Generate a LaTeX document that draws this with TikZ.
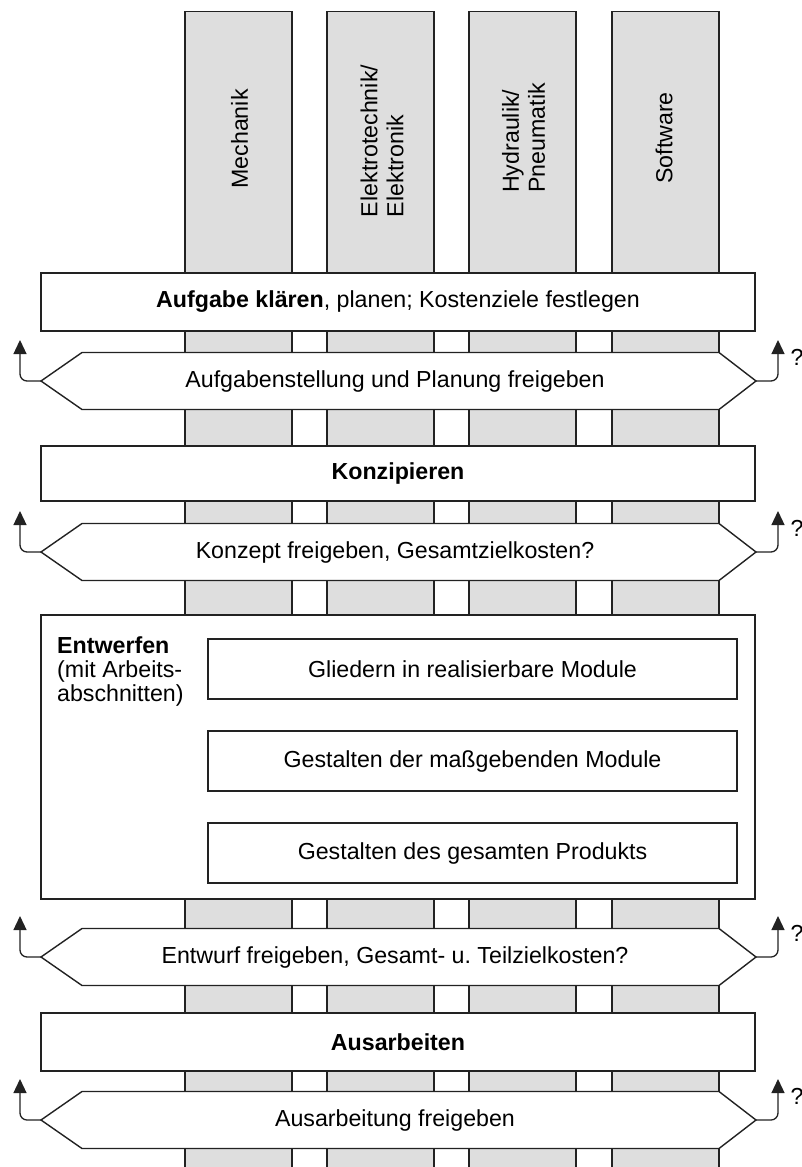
\documentclass[tikz,border=0pt]{standalone}
\usepackage{fontspec}
\setmainfont{Liberation Sans}
\usetikzlibrary{arrows.meta}
\definecolor{colfill}{HTML}{DEDEDE}
\definecolor{ink}{HTML}{222222}
\frenchspacing

\begin{document}
\begin{tikzpicture}[x=1pt,y=-1pt,
  every node/.style={font=\fontsize{23.2}{26}\selectfont, text=black},
  fieldcol/.style={fill=colfill, draw=ink, line width=1.3pt, minimum width=107pt,
    minimum height=1180pt, anchor=north, inner sep=0pt},
  fieldlabel/.style={rotate=90, align=left, inner sep=0pt},
  stage/.style={draw=ink, fill=white, line width=2.8pt, minimum width=714pt, inner sep=0pt},
  substage/.style={draw=ink, fill=white, line width=1.3pt, minimum width=529pt,
    minimum height=60pt, inner sep=0pt},
  gate/.style={draw=ink, fill=white, line width=1.4pt, line join=miter},
  gatetext/.style={inner sep=0pt},
  back/.style={draw=ink, line width=1.3pt, rounded corners=7pt,
    -{Triangle[length=14pt,width=13pt]}},
  query/.style={inner sep=0pt}
]
\useasboundingbox (0,0) rectangle (802,1167);
\clip (0,0) rectangle (802,1167);

% engineering fields running behind the whole process
\node[fieldcol] (d1) at (238.5,11) {};
\node[fieldcol] (d2) at (380.5,11) {};
\node[fieldcol] (d3) at (522.5,11) {};
\node[fieldcol] (d4) at (665.5,11) {};
\node[fieldlabel] (l1) at (239.5,139) {Mechanik};
\node[fieldlabel] (l2) at (382,141) {Elektrotechnik/\\Elektronik};
\node[fieldlabel] (l3) at (523.5,138) {Hydraulik/\\Pneumatik};
\node[fieldlabel] (l4) at (664,138) {Software};

% working stages
\node[stage, minimum height=58pt] (s1) at (398,302)
  {\textbf{Aufgabe klären}, planen; Kostenziele festlegen};
\node[stage, minimum height=55pt] (s2) at (398,473.5) {\textbf{Konzipieren}};
\node[stage, minimum height=284pt] (s3) at (398,757) {};
\node[stage, minimum height=58pt] (s4) at (398,1042) {\textbf{Ausarbeiten}};

% design stage with its sub-steps
\node[align=left, anchor=north west, inner sep=0pt,
      font=\fontsize{23.2}{24.3}\selectfont] (s3t) at (57,636)
  {\textbf{Entwerfen}\\(mit Arbeits-\\abschnitten)};
\node[substage] (m1) at (472.5,669) {Gliedern in realisierbare Module};
\node[substage] (m2) at (472.5,761) {Gestalten der maßgebenden Module};
\node[substage] (m3) at (472.5,853) {Gestalten des gesamten Produkts};

% release gates with feedback arrows
\foreach \n/\y/\t in {1/381/{Aufgabenstellung und Planung freigeben},
                      2/552/{Konzept freigeben, Gesamtzielkosten?},
                      3/957/{Entwurf freigeben, Gesamt- u. Teilzielkosten?},
                      4/1120/{Ausarbeitung freigeben}} {
  \draw[gate] (41,\y) -- (82,\y-28.5) -- (719,\y-28.5) -- (756,\y)
    -- (719,\y+28.5) -- (82,\y+28.5) -- cycle;
  \coordinate (g\n w) at (41,\y);
  \coordinate (g\n e) at (756,\y);
  \coordinate (g\n lt) at (20,\y-41);
  \coordinate (g\n rt) at (778,\y-41);
  \node[gatetext] (g\n) at (395,\y) {\t};
  \draw[back] (g\n w) -- (g\n lt |- g\n w) -- (g\n lt);
  \draw[back] (g\n e) -- (g\n rt |- g\n e) -- (g\n rt);
  \node[query] (q\n) at (797,\y-24) {?};
}
\end{tikzpicture}
\end{document}
